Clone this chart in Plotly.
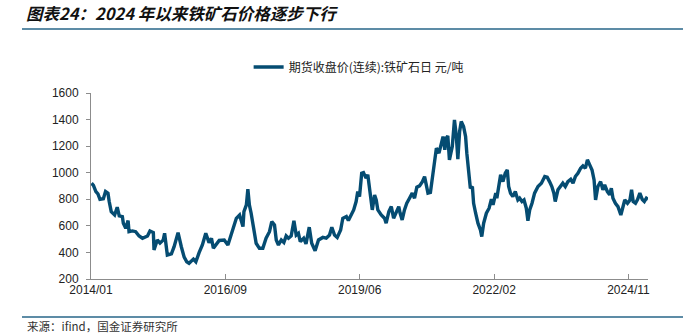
import plotly.graph_objects as go

# ---- data ----
dates = [
    "2014-01-05", "2014-01-19", "2014-02-06", "2014-02-21", "2014-03-08", "2014-04-02", "2014-04-18",
    "2014-05-06", "2014-05-15", "2014-05-30", "2014-06-24", "2014-07-13", "2014-07-28", "2014-08-20",
    "2014-08-27", "2014-09-14", "2014-10-01", "2014-10-08", "2014-11-02", "2014-11-26", "2014-12-21",
    "2015-01-15", "2015-02-21", "2015-03-11", "2015-04-05", "2015-04-10", "2015-05-04", "2015-05-24",
    "2015-06-17", "2015-06-27", "2015-07-17", "2015-08-16", "2015-09-05", "2015-10-04", "2015-10-28",
    "2015-11-18", "2015-12-07", "2015-12-24", "2016-01-25", "2016-02-12", "2016-03-07", "2016-03-31",
    "2016-04-25", "2016-05-19", "2016-06-06", "2016-06-20", "2016-08-02", "2016-09-08", "2016-10-05",
    "2016-10-24", "2016-11-11", "2016-12-06", "2016-12-30", "2017-01-24", "2017-01-31", "2017-02-18",
    "2017-03-01", "2017-03-12", "2017-03-25", "2017-04-13", "2017-05-01", "2017-05-25", "2017-06-19",
    "2017-07-13", "2017-08-07", "2017-08-24", "2017-09-13", "2017-09-26", "2017-10-12", "2017-11-02",
    "2017-11-21", "2017-12-08", "2017-12-25", "2018-01-14", "2018-02-03", "2018-02-20", "2018-03-08",
    "2018-03-22", "2018-04-16", "2018-05-03", "2018-05-27", "2018-06-14", "2018-07-09", "2018-08-03",
    "2018-09-04", "2018-09-29", "2018-10-23", "2018-11-09", "2018-11-29", "2018-12-19", "2019-01-13",
    "2019-01-29", "2019-02-24", "2019-03-11", "2019-03-31", "2019-04-19", "2019-05-07", "2019-05-19",
    "2019-06-01", "2019-06-17", "2019-06-30", "2019-07-19", "2019-08-01", "2019-08-18", "2019-09-03",
    "2019-09-20", "2019-10-02", "2019-10-14", "2019-11-08", "2019-12-02", "2019-12-14", "2020-01-03",
    "2020-01-21", "2020-02-07", "2020-02-27", "2020-03-16", "2020-03-26", "2020-04-10", "2020-04-27",
    "2020-05-14", "2020-06-03", "2020-06-23", "2020-07-10", "2020-07-27", "2020-08-16", "2020-09-06",
    "2020-09-22", "2020-10-05", "2020-10-17", "2020-11-04", "2020-11-23", "2020-12-05", "2020-12-18",
    "2021-01-06", "2021-01-24", "2021-02-05", "2021-02-18", "2021-02-28", "2021-03-12", "2021-03-24",
    "2021-04-14", "2021-04-30", "2021-05-13", "2021-05-25", "2021-06-07", "2021-06-19", "2021-07-06",
    "2021-07-21", "2021-07-30", "2021-08-14", "2021-08-25", "2021-09-09", "2021-09-18", "2021-10-03",
    "2021-10-20", "2021-11-07", "2021-11-17", "2021-12-01", "2021-12-21", "2022-01-10", "2022-01-27",
    "2022-02-08", "2022-02-28", "2022-03-08", "2022-03-28", "2022-04-05", "2022-04-22", "2022-05-09",
    "2022-05-24", "2022-06-03", "2022-06-17", "2022-07-04", "2022-07-22", "2022-08-10", "2022-08-23",
    "2022-09-09", "2022-09-24", "2022-10-11", "2022-10-23", "2022-11-05", "2022-11-22", "2022-12-11",
    "2023-01-05", "2023-01-30", "2023-02-24", "2023-03-14", "2023-03-31", "2023-04-17", "2023-05-02",
    "2023-05-12", "2023-06-01", "2023-06-20", "2023-07-07", "2023-07-25", "2023-08-13", "2023-09-03",
    "2023-09-20", "2023-10-07", "2023-10-26", "2023-11-15", "2023-12-02", "2023-12-20", "2024-01-04",
    "2024-01-21", "2024-02-07", "2024-02-22", "2024-03-04", "2024-03-21", "2024-04-10", "2024-04-27",
    "2024-05-10", "2024-05-30", "2024-06-16", "2024-06-28", "2024-07-10", "2024-07-28", "2024-08-16",
    "2024-09-06", "2024-09-23", "2024-10-05", "2024-10-25", "2024-11-12", "2024-11-24", "2024-12-06",
    "2024-12-23", "2025-01-07", "2025-01-24", "2025-02-11", "2025-02-26", "2025-03-13", "2025-03-25",
]
prices = [
    921, 905, 858, 840, 800, 804, 858,
    845, 783, 707, 682, 740, 675, 670,
    620, 582, 640, 556, 562, 556, 524,
    507, 524, 562, 550, 418, 494, 470,
    494, 544, 381, 390, 443, 549, 443,
    364, 330, 318, 350, 330, 398, 456,
    544, 474, 507, 431, 490, 494, 456,
    519, 582, 657, 682, 594, 707, 758,
    876, 758, 695, 569, 469, 431, 431,
    507, 556, 632, 607, 494, 456, 494,
    475, 524, 507, 524, 639, 531, 544,
    481, 507, 464, 590, 469, 413, 494,
    513, 507, 531, 590, 531, 513, 569,
    657, 670, 640, 682, 720, 783, 858,
    820, 996, 1001, 959, 985, 858, 720,
    833, 795, 720, 682, 657, 620, 707,
    745, 657, 707, 745, 695, 645, 720,
    770, 808, 846, 808, 891, 901, 933,
    971, 896, 846, 851, 996, 1076, 1185,
    1147, 1223, 1272, 1172, 1260, 1277, 1097,
    1198, 1398, 1285, 1102, 1311, 1385, 1348,
    1272, 1147, 1021, 883, 896, 770, 695,
    620, 569, 519, 620, 695, 733, 801,
    758, 846, 808, 946, 984, 933, 996,
    1021, 896, 846, 820, 858, 795, 808,
    783, 795, 733, 639, 720, 770, 846,
    896, 921, 971, 966, 933, 896, 846,
    783, 871, 896, 921, 896, 933, 950,
    921, 971, 996, 1034, 1052, 1034, 1097,
    1059, 1021, 946, 795, 896, 933, 871,
    908, 858, 833, 883, 808, 770, 745,
    682, 758, 795, 770, 795, 871, 783,
    770, 798, 846, 798, 783, 808, 800,
]

series_name = "期货收盘价(连续):铁矿石日 元/吨"
title_text = "图表24：2024 年以来铁矿石价格逐步下行"
source_text = "来源：ifind，国金证券研究所"

tick_dates = ["2014-01-01", "2016-09-16", "2019-06-02", "2022-02-16", "2024-11-01"]
tick_labels = ["2014/01", "2016/09", "2019/06", "2022/02", "2024/11"]
x_range = ["2014-01-01", "2025-03-25"]
y_ticks = [200, 400, 600, 800, 1000, 1200, 1400, 1600]

LINE_COLOR = "#054c72"
RULE_COLOR = "#5d8ca6"
FONT = "Liberation Sans, Arial, Noto Sans CJK SC, sans-serif"

fig = go.Figure()
fig.add_trace(go.Scatter(
    x=dates, y=prices, mode="lines", name=series_name,
    line=dict(color=LINE_COLOR, width=3.4),
    showlegend=True,
))

fig.update_layout(
    width=683, height=334,
    margin=dict(l=91, r=35, t=93, b=55),
    paper_bgcolor="white", plot_bgcolor="white",
    font=dict(family=FONT, size=12, color="#222222"),
    title=dict(
        text="<b><i>" + title_text + "</i></b>",
        x=26 / 683, xanchor="left", xref="container",
        y=1 - 14 / 334, yanchor="middle", yref="container",
        font=dict(family="Noto Sans CJK SC, sans-serif", size=16.5, color="#111111"),
    ),
    showlegend=True,
    legend=dict(
        orientation="h",
        x=0.283, xanchor="left",
        y=1.14, yanchor="middle",
        font=dict(family="Noto Sans CJK SC, Liberation Sans, sans-serif", size=12, color="#222222"),
        bgcolor="rgba(0,0,0,0)",
    ),
    xaxis=dict(
        type="date", range=x_range,
        tickvals=tick_dates, ticktext=tick_labels,
        showgrid=False, zeroline=False,
        showline=True, linecolor="#8c8c8c", linewidth=1,
        ticks="inside", ticklen=5, tickcolor="#8c8c8c",
        tickfont=dict(size=12, color="#222222"),
    ),
    yaxis=dict(
        range=[200, 1600], tickvals=y_ticks,
        showgrid=False, zeroline=False,
        showline=True, linecolor="#8c8c8c", linewidth=1,
        ticks="outside", ticklen=4, tickcolor="#8c8c8c",
        ticklabelstandoff=5,
        tickfont=dict(size=12, color="#222222"),
    ),
    shapes=[
        dict(type="line", xref="paper", yref="paper",
             x0=(22 - 91) / 557, x1=(683 - 91) / 557,
             y0=(279 - 29) / 186, y1=(279 - 29) / 186,
             line=dict(color=RULE_COLOR, width=2)),
        dict(type="line", xref="paper", yref="paper",
             x0=(22 - 91) / 557, x1=(683 - 91) / 557,
             y0=(279 - 317) / 186, y1=(279 - 317) / 186,
             line=dict(color=RULE_COLOR, width=2)),
    ],
    annotations=[
        dict(text=source_text, xref="paper", yref="paper",
             x=(25 - 91) / 557, xanchor="left",
             y=(279 - 325.5) / 186, yanchor="middle",
             showarrow=False,
             font=dict(family="Noto Sans CJK SC, sans-serif", size=11.5, color="#333333")),
    ],
)

fig.write_html("out.html")
